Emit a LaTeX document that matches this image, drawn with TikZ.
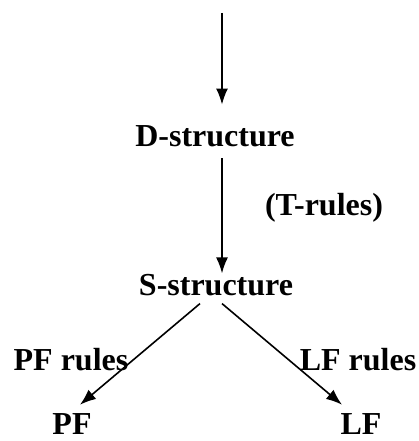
\documentclass[tikz,border=0pt]{standalone}
\usepackage{fontspec}
\setmainfont{Liberation Serif}
\usetikzlibrary{arrows.meta}

\begin{document}
\begin{tikzpicture}[>={Latex[length=16pt,width=12pt]},x=1pt,y=-1pt,line width=1.6pt,font=\fontsize{32}{38}\selectfont\bfseries]
	\useasboundingbox (0,0) rectangle (418,441);
	\coordinate (in) at (222,13);
	\node [inner sep=0pt] at (215,136) (dstr) {D-structure};
	\node [inner sep=0pt] at (324,208) (trules) {(T-rules)};
	\node [inner sep=0pt] at (216,285) (sstr) {S-structure};
	\node [inner sep=0pt] at (71,360) (pfrules) {PF rules};
	\node [inner sep=0pt] at (358,360) (lfrules) {LF rules};
	\node [inner sep=0pt] at (72,424) (pf) {PF};
	\node [inner sep=0pt] at (361,424) (lf) {LF};

	\draw[->,shorten >=20pt] (in) -- (in|-dstr.north);
	\draw[->,shorten <=11pt] (in|-dstr.south) -- (in|-sstr.north);

	\draw[->] ([xshift=-16pt,yshift=-7pt]sstr.south) -- ([xshift=8pt,yshift=8pt]pf.north);
	\draw[->] ([xshift=6pt,yshift=-7pt]sstr.south) -- ([xshift=-19pt,yshift=8pt]lf.north);
\end{tikzpicture}
\end{document}
